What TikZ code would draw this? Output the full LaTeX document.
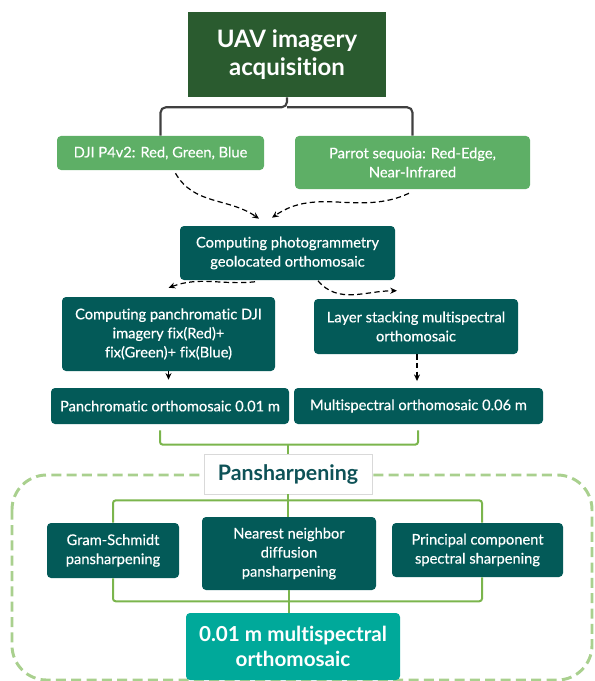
\documentclass[tikz,border=0pt]{standalone}
\usepackage{fontspec}
\setmainfont{Lato}[Ligatures=NoCommon]
\newfontfamily\medfont{Lato}[FakeBold=0.4,Ligatures=NoCommon]
\usetikzlibrary{arrows.meta,calc}
\definecolor{titlegreen}{HTML}{2A5B2F}
\definecolor{lightgreen}{HTML}{5EAF66}
\definecolor{darkteal}{HTML}{035A58}
\definecolor{finalteal}{HTML}{00A99A}
\definecolor{linegreen}{HTML}{7BB54D}
\definecolor{dashgreen}{HTML}{A9D08E}
\definecolor{pantext}{HTML}{0E5257}
\definecolor{panborder}{HTML}{D9D9D9}
\definecolor{graylink}{HTML}{404040}
\tikzset{
  box/.style={rounded corners=3pt, text=white, align=center, inner sep=0pt,
    font=\medfont\fontsize{11}{14.3}\selectfont},
  lgbox/.style={box, fill=lightgreen},
  tbox/.style={box, fill=darkteal},
  glink/.style={draw=linegreen, line width=1.5pt, rounded corners=2pt},
  dlink/.style={draw=black, line width=0.9pt, dash pattern=on 4pt off 2.5pt,
    -{Stealth[length=5pt,width=4.5pt]}},
}
\begin{document}
\begin{tikzpicture}[x=0.75pt,y=-0.75pt]
\useasboundingbox (0,0) rectangle (594,681);
% dashed frame
\draw[dashgreen, line width=2.2pt, dash pattern=on 7.5pt off 4pt, rounded corners=26pt]
  (12,475) rectangle (592,680);
% nodes
\node[fill=titlegreen, text=white, align=center, inner sep=0pt,
  minimum width=198*0.75pt, minimum height=85*0.75pt,
  font=\fontsize{18}{21.5}\selectfont\bfseries] (title) at (287,54.5) {UAV imagery\\acquisition};
\node[lgbox, minimum width=207*0.75pt, minimum height=34*0.75pt] (dji) at (160.5,153) {DJI P4v2: Red, Green, Blue};
\node[lgbox, minimum width=235*0.75pt, minimum height=53*0.75pt] (parrot) at (412.5,162.5) {Parrot sequoia: Red-Edge,\\Near-Infrared};
\node[tbox, minimum width=215*0.75pt, minimum height=54*0.75pt] (photo) at (287.5,253) {Computing photogrammetry\\geolocated orthomosaic};
\node[tbox, minimum width=213*0.75pt, minimum height=74*0.75pt] (comppan) at (168.5,334) {Computing panchromatic DJI\\imagery fix(Red)+\\fix(Green)+ fix(Blue)};
\node[tbox, minimum width=204*0.75pt, minimum height=55*0.75pt] (layer) at (416,326.5) {Layer stacking multispectral\\orthomosaic};
\node[tbox, minimum width=238*0.75pt, minimum height=36*0.75pt] (panortho) at (170,406) {Panchromatic orthomosaic 0.01 m};
\node[tbox, minimum width=249*0.75pt, minimum height=36*0.75pt] (msortho) at (418.5,406) {Multispectral orthomosaic 0.06 m};
\node[fill=white, draw=panborder, line width=0.6pt, text=pantext, inner sep=0pt,
  minimum width=168*0.75pt, minimum height=40*0.75pt,
  font=\fontsize{16}{19}\selectfont\bfseries] (pansharp) at (288,474) {Pansharpening};
\node[tbox, minimum width=132*0.75pt, minimum height=55*0.75pt] (gram) at (113,550.5) {Gram-Schmidt\\pansharpening};
\node[tbox, minimum width=174*0.75pt, minimum height=73*0.75pt] (nearest) at (289,553.5) {Nearest neighbor\\diffusion\\pansharpening};
\node[tbox, minimum width=171*0.75pt, minimum height=54*0.75pt] (principal) at (477.5,550) {Principal component\\spectral sharpening};
\node[box, fill=finalteal, minimum width=214*0.75pt, minimum height=67*0.75pt,
  font=\fontsize{15.5}{19}\selectfont\bfseries] (final) at (293,646.5) {0.01 m multispectral\\orthomosaic};
% gray bracket
\coordinate (tj) at ([shift={(0,10)}]title.south);
\draw[graylink, line width=1.6pt, rounded corners=4pt] (title.south) -- (tj) -| (dji.north);
\draw[graylink, line width=1.6pt, rounded corners=4pt] (tj) -| (parrot.north);
% dashed arrows
\draw[dlink] ([shift={(15,3)}]dji.south) to[out=-60,in=145] ([shift={(-28.5,-7)}]photo.north);
\draw[dlink] ([shift={(-3.5,4)}]parrot.south) to[out=-155,in=35] ([shift={(-15.5,-8)}]photo.north);
\draw[dlink] ([shift={(-32.5,1.5)}]photo.south) to[out=186,in=20] ([shift={(0,-9)}]comppan.north);
\draw[dlink] ([shift={(30.5,0.5)}]photo.south) to[out=-50,in=180] ([shift={(-19,-8)}]layer.north);
\draw[dlink, shorten >=6pt] (comppan.south) -- (comppan.south |- panortho.north);
\draw[dlink, shorten >=5pt] ([shift={(1,0)}]layer.south) -- ([shift={(1,0)}]layer.south |- msortho.north);
% green brackets
\coordinate (bj) at ([shift={(0,-9)}]pansharp.north);
\draw[glink] ([shift={(-10,6)}]panortho.south) |- (bj) -| ([shift={(-0.5,6)}]msortho.south);
\draw[glink] (bj) -- (pansharp.north);
\coordinate (cj) at ([shift={(0,6)}]pansharp.south);
\draw[glink] (gram.north) |- (cj) -| ([shift={(4.5,0)}]principal.north);
\draw[glink] (pansharp.south) -- (pansharp.south |- nearest.north);
\coordinate (dj) at ([shift={(0,11)}]nearest.south);
\draw[glink] (gram.south) |- (dj) -| ([shift={(4.5,0)}]principal.south);
\draw[glink] (nearest.south) -- (nearest.south |- final.north);
\end{tikzpicture}
\end{document}
